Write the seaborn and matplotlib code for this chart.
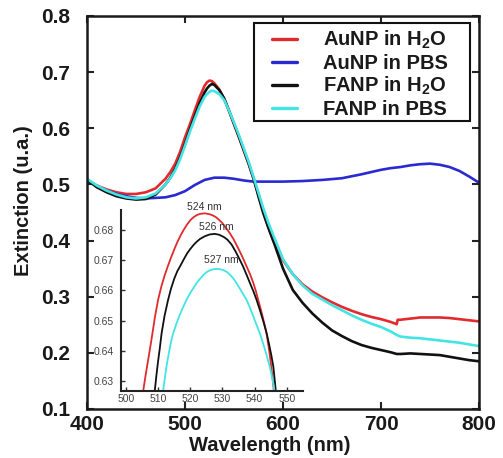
import matplotlib
matplotlib.use("Agg")
import matplotlib.pyplot as plt
from matplotlib.patches import Rectangle
import seaborn as sns
import pandas as pd

# ---------------- data ----------------
wl = [400, 410, 420, 430, 440, 450, 460, 470, 480, 485, 490, 495, 500, 505, 510, 515,
      520, 522.5, 525, 527.5, 530, 535, 540, 545, 550, 555, 560, 565, 570, 575, 580, 585,
      590, 600, 610, 620, 630, 640, 650, 660, 670, 680, 690, 700, 710, 716, 717, 720, 730,
      740, 750, 760, 770, 780, 790, 800]

aunp_h2o = [0.508, 0.498, 0.491, 0.486, 0.483, 0.483, 0.486, 0.493, 0.510, 0.522, 0.537, 0.558,
            0.584, 0.607, 0.632, 0.656, 0.676, 0.682, 0.685, 0.684, 0.680, 0.669, 0.652, 0.630,
            0.607, 0.584, 0.560, 0.536, 0.510, 0.482, 0.452, 0.424, 0.400, 0.365, 0.340, 0.322,
            0.309, 0.299, 0.290, 0.282, 0.275, 0.269, 0.264, 0.260, 0.255, 0.251, 0.259, 0.259,
            0.261, 0.263, 0.263, 0.263, 0.262, 0.260, 0.258, 0.256]

fanp_h2o = [0.508, 0.495, 0.486, 0.479, 0.475, 0.473, 0.474, 0.482, 0.500, 0.512, 0.528, 0.548,
            0.572, 0.598, 0.622, 0.645, 0.664, 0.671, 0.676, 0.679, 0.677, 0.668, 0.653, 0.631,
            0.608, 0.585, 0.561, 0.537, 0.510, 0.478, 0.448, 0.423, 0.400, 0.350, 0.312, 0.289,
            0.270, 0.254, 0.240, 0.230, 0.221, 0.214, 0.209, 0.205, 0.201, 0.198, 0.198, 0.198,
            0.199, 0.198, 0.197, 0.196, 0.193, 0.190, 0.187, 0.185]

fanp_pbs = [0.510, 0.498, 0.489, 0.482, 0.477, 0.475, 0.477, 0.484, 0.500, 0.511, 0.525, 0.545,
            0.569, 0.594, 0.617, 0.639, 0.656, 0.661, 0.665, 0.667, 0.666, 0.661, 0.650, 0.631,
            0.610, 0.588, 0.564, 0.540, 0.513, 0.485, 0.457, 0.432, 0.410, 0.367, 0.340, 0.320,
            0.305, 0.295, 0.285, 0.276, 0.267, 0.259, 0.252, 0.246, 0.238, 0.232, 0.231, 0.229,
            0.227, 0.226, 0.224, 0.222, 0.220, 0.218, 0.215, 0.212]

wl_blue = [400, 410, 420, 430, 440, 450, 460, 470, 480, 490, 500, 510, 520, 530, 540, 550,
           560, 570, 580, 590, 600, 620, 640, 660, 680, 700, 710, 720, 730, 740, 750, 760,
           770, 780, 790, 800]
aunp_pbs = [0.508, 0.497, 0.489, 0.483, 0.479, 0.476, 0.475, 0.476, 0.477, 0.481, 0.488, 0.499,
            0.508, 0.512, 0.512, 0.510, 0.507, 0.505, 0.505, 0.505, 0.505, 0.506, 0.508, 0.511,
            0.518, 0.526, 0.529, 0.531, 0.534, 0.536, 0.537, 0.535, 0.531, 0.524, 0.514, 0.503]

# inset (zoom on the plasmon peak)
in_red_x = [505.0, 506.0, 507.0, 508.0, 509.0, 510.0, 511.0, 512.0, 513.0, 514.0, 515.0, 516.0,
            517.0, 518.0, 519.0, 520.0, 521.0, 522.0, 523.0, 524.5, 526.0, 527.0, 528.0, 529.0,
            530.0, 531.0, 532.3, 533.5, 535.0, 536.3, 537.5, 538.5, 539.5, 540.3, 541.1, 542.0,
            543.0, 543.7, 544.5, 545.0, 545.5, 546.2]
in_red_y = [0.6240, 0.6310, 0.6375, 0.6440, 0.6510, 0.6568, 0.6612, 0.6648, 0.6679, 0.6708,
            0.6735, 0.6760, 0.6782, 0.6801, 0.6818, 0.6832, 0.6842, 0.6849, 0.6853, 0.6855,
            0.6852, 0.6848, 0.6842, 0.6833, 0.6822, 0.6808, 0.6789, 0.6768, 0.6737, 0.6708,
            0.6679, 0.6655, 0.6627, 0.6600, 0.6568, 0.6533, 0.6490, 0.6458, 0.6400, 0.6360,
            0.6314, 0.6240]
in_blk_x = [508.5, 509.0, 509.5, 510.0, 510.5, 511.1, 512.0, 513.1, 514.0, 515.0, 516.0, 516.8,
            518.0, 519.0, 520.0, 521.0, 521.9, 523.0, 524.5, 526.0, 527.6, 529.0, 530.5, 531.5,
            532.8, 534.0, 535.2, 536.4, 537.5, 538.5, 539.6, 540.6, 541.7, 542.7, 543.7, 544.5,
            545.2, 545.8, 546.3, 546.8]
in_blk_y = [0.6240, 0.6270, 0.6320, 0.6365, 0.6405, 0.6458, 0.6515, 0.6568, 0.6605, 0.6638,
            0.6664, 0.6679, 0.6703, 0.6722, 0.6737, 0.6750, 0.6760, 0.6770, 0.6779, 0.6785,
            0.6787, 0.6784, 0.6776, 0.6768, 0.6752, 0.6730, 0.6705, 0.6679, 0.6651, 0.6625,
            0.6597, 0.6568, 0.6532, 0.6497, 0.6458, 0.6420, 0.6383, 0.6347, 0.6295, 0.6237]
in_cyn_x = [511.2, 511.6, 512.1, 512.6, 513.3, 514.0, 514.7, 515.7, 516.7, 517.8, 518.8, 519.8,
            520.8, 521.9, 523.0, 524.0, 525.0, 526.2, 527.2, 528.2, 529.2, 530.3, 531.5, 532.5,
            533.5, 534.4, 535.5, 536.5, 537.5, 538.5, 539.5, 540.5, 541.6, 542.6, 543.6, 544.7,
            545.4, 546.0, 546.6]
in_cyn_y = [0.6240, 0.6270, 0.6310, 0.6347, 0.6390, 0.6428, 0.6458, 0.6490, 0.6518, 0.6545,
            0.6568, 0.6588, 0.6605, 0.6623, 0.6638, 0.6650, 0.6660, 0.6667, 0.6670, 0.6671,
            0.6670, 0.6667, 0.6660, 0.6650, 0.6638, 0.6623, 0.6604, 0.6586, 0.6568, 0.6543,
            0.6516, 0.6488, 0.6458, 0.6425, 0.6389, 0.6347, 0.6312, 0.6277, 0.6237]

peak_labels = ["524 nm", "526 nm", "527 nm"]
peak_label_x = [524.5, 528.2, 529.7]
peak_label_y = [0.6877, 0.6811, 0.6701]

series_names = ["AuNP in H$_2$O", "AuNP in PBS", "FANP in H$_2$O", "FANP in PBS"]
colors = ["#e22a2e", "#2a2ad2", "#111111", "#42e4e4"]

main_xticks = [400, 500, 600, 700, 800]
main_yticks = [0.1, 0.2, 0.3, 0.4, 0.5, 0.6, 0.7, 0.8]
inset_xticks = [500, 510, 520, 530, 540, 550]
inset_yticks = [0.63, 0.64, 0.65, 0.66, 0.67, 0.68]

# ---------------- styling ----------------
sns.set_theme(style="ticks")
plt.rcParams["font.family"] = ["Liberation Sans", "DejaVu Sans"]
plt.rcParams["mathtext.fontset"] = "custom"
plt.rcParams["mathtext.rm"] = "Liberation Sans:bold"
plt.rcParams["mathtext.it"] = "Liberation Sans:bold"
plt.rcParams["mathtext.bf"] = "Liberation Sans:bold"

frames = [
    pd.DataFrame({"wl": wl, "ext": aunp_h2o, "sample": series_names[0]}),
    pd.DataFrame({"wl": wl_blue, "ext": aunp_pbs, "sample": series_names[1]}),
    pd.DataFrame({"wl": wl, "ext": fanp_h2o, "sample": series_names[2]}),
    pd.DataFrame({"wl": wl, "ext": fanp_pbs, "sample": series_names[3]}),
]
df = pd.concat(frames, ignore_index=True)

inset_df = pd.concat([
    pd.DataFrame({"wl": in_red_x, "ext": in_red_y, "sample": series_names[0]}),
    pd.DataFrame({"wl": in_blk_x, "ext": in_blk_y, "sample": series_names[2]}),
    pd.DataFrame({"wl": in_cyn_x, "ext": in_cyn_y, "sample": series_names[3]}),
], ignore_index=True)

palette = dict(zip(series_names, colors))

fig = plt.figure(figsize=(5.03, 4.58), dpi=100)
ax = fig.add_axes([0.1730, 0.1070, 0.7793, 0.8581])

sns.lineplot(data=df, x="wl", y="ext", hue="sample", hue_order=series_names,
             palette=palette, sort=False, estimator=None, linewidth=1.9, ax=ax)

ax.set_xlim(400, 800)
ax.set_ylim(0.1, 0.8)
ax.set_xticks(main_xticks)
ax.set_yticks(main_yticks)
ax.set_xticklabels([str(v) for v in main_xticks])
ax.set_yticklabels([f"{v:.1f}" for v in main_yticks])
for lab in ax.get_xticklabels() + ax.get_yticklabels():
    lab.set_fontweight("bold")
    lab.set_fontsize(15)
    lab.set_color("#1a1a1a")
ax.tick_params(axis="both", which="both", direction="in", length=5, width=1.5,
               top=True, right=True, color="#222222")
ax.tick_params(axis="y", pad=12)
ax.tick_params(axis="x", pad=4)
for s in ax.spines.values():
    s.set_linewidth(1.8)
    s.set_color("#1a1a1a")

ax.set_xlabel("Wavelength (nm)", fontsize=14.5, fontweight="bold", color="#1a1a1a")
ax.set_ylabel("Extinction (u.a.)", fontsize=14.5, fontweight="bold", color="#1a1a1a")
ax.xaxis.set_label_coords(0.467, -0.068)
ax.yaxis.set_label_coords(-0.138, 0.53)

leg = ax.legend(loc="upper left", bbox_to_anchor=(0.471, 0.967), fontsize=14.5,
                frameon=False, handlelength=1.25, handletextpad=1.3, labelspacing=0.12,
                borderpad=0.0, borderaxespad=0)
for t in leg.get_texts():
    t.set_fontweight("bold")
    t.set_color("#1a1a1a")
for h in leg.get_lines():
    h.set_linewidth(2.4)
ax.add_patch(Rectangle((0.426, 0.732), 0.551, 0.250, transform=ax.transAxes,
                       fill=False, edgecolor="#111111", linewidth=1.5, zorder=5))

# ---------------- inset ----------------
axin = fig.add_axes([0.2406, 0.1463, 0.3618, 0.3952])
axin.patch.set_alpha(0)
sns.lineplot(data=inset_df, x="wl", y="ext", hue="sample",
             hue_order=[series_names[0], series_names[2], series_names[3]],
             palette=palette, sort=False, estimator=None, linewidth=1.3, ax=axin,
             legend=False)
axin.set_xlim(498.5, 555)
axin.set_ylim(0.6267, 0.6866)
axin.set_xticks(inset_xticks)
axin.set_yticks(inset_yticks)
axin.set_xticklabels([str(v) for v in inset_xticks])
axin.set_yticklabels([f"{v:.2f}" for v in inset_yticks])
axin.set_xlabel("")
axin.set_ylabel("")
axin.spines["top"].set_visible(False)
axin.spines["right"].set_visible(False)
for k in ["left", "bottom"]:
    axin.spines[k].set_linewidth(1.5)
    axin.spines[k].set_color("#222222")
axin.tick_params(axis="both", direction="in", length=3, width=1.0, labelsize=7.5,
                 labelcolor="#444444", color="#333333")
axin.tick_params(axis="y", pad=5)
axin.tick_params(axis="x", pad=2)
for txt, tx, ty in zip(peak_labels, peak_label_x, peak_label_y):
    axin.text(tx, ty, txt, fontsize=7.5, color="#333333", ha="center", va="center",
              clip_on=False)

fig.savefig("out.png", dpi=100)
